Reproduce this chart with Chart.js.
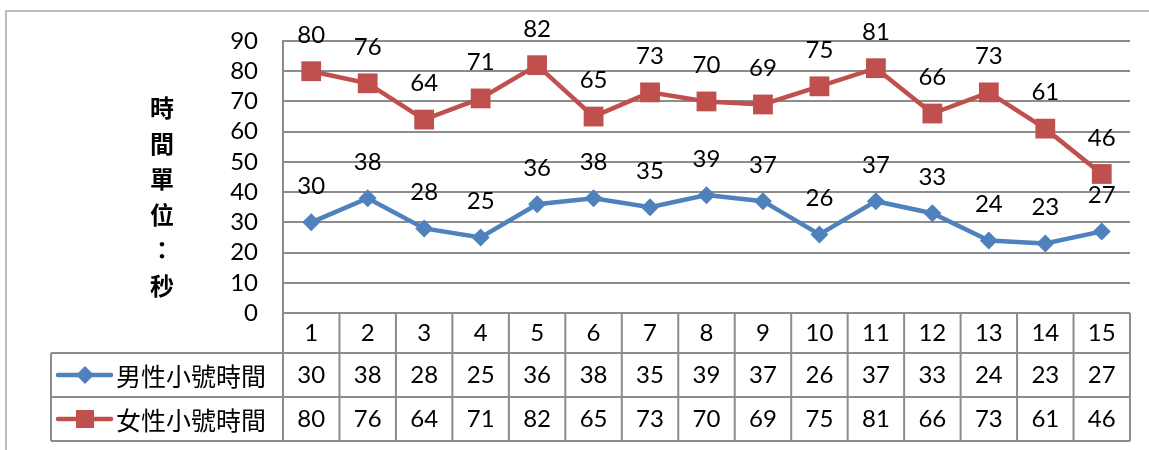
<!DOCTYPE html>
<html>
<head>
<meta charset="utf-8">
<script src="https://cdn.jsdelivr.net/npm/chart.js@4/dist/chart.umd.min.js"></script>
<style>
  html, body { margin: 0; padding: 0; background: #fff; }
  canvas { display: block; }
</style>
</head>
<body>
<canvas id="c" width="1149" height="450"></canvas>
<script>
// Categories (trial numbers) and the two time series, in seconds
const categories = ['1','2','3','4','5','6','7','8','9','10','11','12','13','14','15'];
const maleTimes   = [30, 38, 28, 25, 36, 38, 35, 39, 37, 26, 37, 33, 24, 23, 27];
const femaleTimes = [80, 76, 64, 71, 82, 65, 73, 70, 69, 75, 81, 66, 73, 61, 46];
const seriesNames = ['男性小號時間', '女性小號時間'];
const axisTitleChars = ['時', '間', '單', '位', '：', '秒'];
const yMin = 0, yMax = 90, yStep = 10;

const BLUE = '#4F81BD';
const RED = '#C0504D';
const GRID = '#8c8c8c';
const NUM_FAMILY = 'Lato, "Liberation Sans", sans-serif';
const NUM_SIZE = 24;
const NUM_FONT = NUM_SIZE + 'px ' + NUM_FAMILY;
const CJK_FONT = '25px "Noto Sans CJK TC", "Noto Sans CJK SC", sans-serif';
const TITLE_FONT = 'bold 24px "Noto Sans CJK TC", "Noto Sans CJK SC", sans-serif';

// Outer frame of the chart
const framePlugin = {
  id: 'frame',
  beforeDraw(chart) {
    const ctx = chart.ctx;
    ctx.save();
    ctx.strokeStyle = '#a6a6a6';
    ctx.lineWidth = 1.5;
    ctx.beginPath();
    ctx.moveTo(6, chart.height + 2);
    ctx.lineTo(6, 11);
    ctx.lineTo(chart.width + 2, 11);
    ctx.stroke();
    ctx.restore();
  }
};

// Stacked vertical axis title
const axisTitlePlugin = {
  id: 'axisTitle',
  afterDraw(chart) {
    const ctx = chart.ctx;
    ctx.save();
    ctx.font = TITLE_FONT;
    ctx.fillStyle = '#000';
    ctx.textAlign = 'center';
    ctx.textBaseline = 'middle';
    axisTitleChars.forEach((ch, i) => {
      ctx.fillText(ch, 162, 108 + i * 35.5);
    });
    ctx.restore();
  }
};

// Value labels above each point
const valueLabelPlugin = {
  id: 'valueLabels',
  afterDatasetsDraw(chart) {
    const ctx = chart.ctx;
    ctx.save();
    ctx.font = NUM_FONT;
    ctx.fillStyle = '#000';
    ctx.textAlign = 'center';
    ctx.textBaseline = 'middle';
    chart.data.datasets.forEach((ds, di) => {
      const meta = chart.getDatasetMeta(di);
      meta.data.forEach((pt, i) => {
        ctx.fillText(String(ds.data[i]), pt.x, pt.y - 36);
      });
    });
    ctx.restore();
  }
};

// Data table beneath the plot area, aligned to the category scale
const dataTablePlugin = {
  id: 'dataTable',
  afterDraw(chart) {
    const ctx = chart.ctx;
    const xs = chart.scales.x;
    const area = chart.chartArea;
    const half = (xs.getPixelForValue(1) - xs.getPixelForValue(0)) / 2;
    const rows = [area.bottom, area.bottom + 40, area.bottom + 84, area.bottom + 128];
    const legendLeft = 51;
    const left = area.left, right = area.right;

    ctx.save();
    ctx.strokeStyle = GRID;
    ctx.lineWidth = 2;
    ctx.beginPath();
    // horizontal rules
    ctx.moveTo(left, rows[0]); ctx.lineTo(right, rows[0]);
    for (let r = 1; r < rows.length; r++) {
      ctx.moveTo(legendLeft, rows[r]); ctx.lineTo(right, rows[r]);
    }
    // vertical rules at category boundaries
    for (let i = 0; i < categories.length; i++) {
      const bx = xs.getPixelForValue(i) - half;
      ctx.moveTo(bx, rows[0]); ctx.lineTo(bx, rows[3]);
    }
    ctx.moveTo(right, rows[0]); ctx.lineTo(right, rows[3]);
    ctx.moveTo(legendLeft, rows[1]); ctx.lineTo(legendLeft, rows[3]);
    ctx.stroke();

    // category numbers and values
    ctx.fillStyle = '#000';
    ctx.font = NUM_FONT;
    ctx.textAlign = 'center';
    ctx.textBaseline = 'middle';
    const rowMid = r => (rows[r] + rows[r + 1]) / 2;
    categories.forEach((c, i) => {
      const cx = xs.getPixelForValue(i);
      ctx.fillText(c, cx, rowMid(0));
      ctx.fillText(String(maleTimes[i]), cx, rowMid(1));
      ctx.fillText(String(femaleTimes[i]), cx, rowMid(2));
    });

    // legend keys with series names
    chart.data.datasets.forEach((ds, di) => {
      const y = rowMid(di + 1);
      ctx.strokeStyle = ds.borderColor;
      ctx.lineWidth = ds.borderWidth;
      ctx.lineCap = 'round';
      ctx.beginPath();
      ctx.moveTo(58, y); ctx.lineTo(111, y);
      ctx.stroke();
      ctx.fillStyle = ds.backgroundColor;
      ctx.beginPath();
      if (ds.pointStyle === 'rectRot') {
        ctx.moveTo(85, y - 9); ctx.lineTo(94, y); ctx.lineTo(85, y + 9); ctx.lineTo(76, y);
        ctx.closePath();
      } else {
        ctx.rect(76, y - 9, 18, 18);
      }
      ctx.fill();
      ctx.fillStyle = '#000';
      ctx.font = CJK_FONT;
      ctx.textAlign = 'left';
      ctx.fillText(seriesNames[di], 116, y + 1);
    });
    ctx.restore();
  }
};

new Chart(document.getElementById('c'), {
  type: 'line',
  data: {
    labels: categories,
    datasets: [
      {
        label: seriesNames[0],
        data: maleTimes,
        borderColor: BLUE,
        backgroundColor: BLUE,
        borderWidth: 4.5,
        pointStyle: 'rectRot',
        pointRadius: 9,
        pointBorderWidth: 0,
        tension: 0
      },
      {
        label: seriesNames[1],
        data: femaleTimes,
        borderColor: RED,
        backgroundColor: RED,
        borderWidth: 4.5,
        pointStyle: 'rect',
        pointRadius: 14,
        pointBorderWidth: 0,
        tension: 0
      }
    ]
  },
  options: {
    responsive: false,
    animation: false,
    layout: { padding: { left: 0, top: 41, right: 19, bottom: 137 } },
    plugins: {
      legend: { display: false },
      tooltip: { enabled: false }
    },
    scales: {
      x: {
        type: 'category',
        display: false,
        offset: true
      },
      y: {
        min: yMin,
        max: yMax,
        afterFit(scale) { scale.width = 283; },
        ticks: {
          stepSize: yStep,
          autoSkip: false,
          padding: 25,
          color: '#000',
          font: { family: NUM_FAMILY, size: NUM_SIZE }
        },
        grid: {
          color: GRID,
          lineWidth: 2,
          drawTicks: false
        },
        border: { display: true, color: GRID, width: 2 }
      }
    }
  },
  plugins: [framePlugin, axisTitlePlugin, valueLabelPlugin, dataTablePlugin]
});
</script>
</body>
</html>
